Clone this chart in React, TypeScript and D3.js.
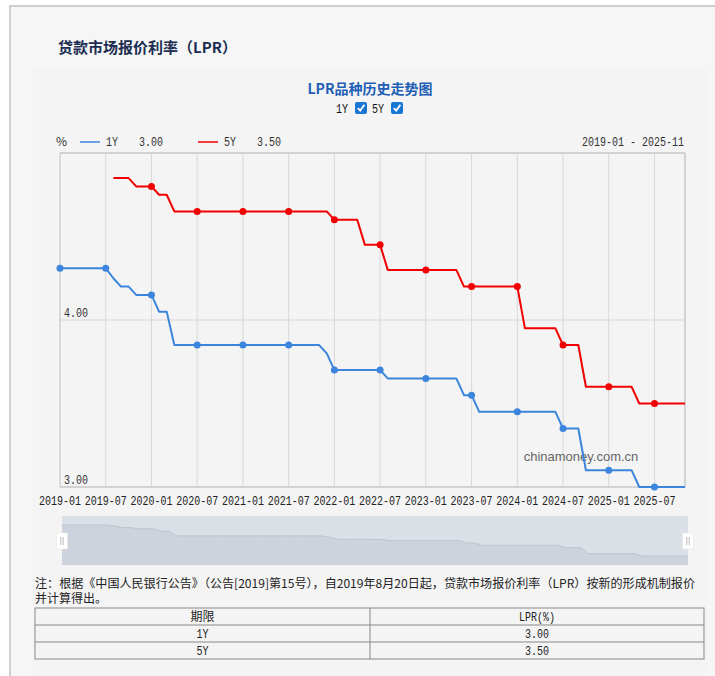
import React from "react";
import * as d3 from "d3";

const months: string[] = [
  "2019-01","2019-02","2019-03","2019-04","2019-05","2019-06","2019-07","2019-08","2019-09","2019-10","2019-11","2019-12",
  "2020-01","2020-02","2020-03","2020-04","2020-05","2020-06","2020-07","2020-08","2020-09","2020-10","2020-11","2020-12",
  "2021-01","2021-02","2021-03","2021-04","2021-05","2021-06","2021-07","2021-08","2021-09","2021-10","2021-11","2021-12",
  "2022-01","2022-02","2022-03","2022-04","2022-05","2022-06","2022-07","2022-08","2022-09","2022-10","2022-11","2022-12",
  "2023-01","2023-02","2023-03","2023-04","2023-05","2023-06","2023-07","2023-08","2023-09","2023-10","2023-11","2023-12",
  "2024-01","2024-02","2024-03","2024-04","2024-05","2024-06","2024-07","2024-08","2024-09","2024-10","2024-11","2024-12",
  "2025-01","2025-02","2025-03","2025-04","2025-05","2025-06","2025-07","2025-08","2025-09","2025-10","2025-11",
];

const lpr1Y: (number | null)[] = [
  4.31,4.31,4.31,4.31,4.31,4.31,4.31,4.25,4.20,4.20,4.15,4.15,
  4.15,4.05,4.05,3.85,3.85,3.85,3.85,3.85,3.85,3.85,3.85,3.85,
  3.85,3.85,3.85,3.85,3.85,3.85,3.85,3.85,3.85,3.85,3.85,3.80,
  3.70,3.70,3.70,3.70,3.70,3.70,3.70,3.65,3.65,3.65,3.65,3.65,
  3.65,3.65,3.65,3.65,3.65,3.55,3.55,3.45,3.45,3.45,3.45,3.45,
  3.45,3.45,3.45,3.45,3.45,3.45,3.35,3.35,3.35,3.10,3.10,3.10,
  3.10,3.10,3.10,3.10,3.00,3.00,3.00,3.00,3.00,3.00,3.00,
];

const lpr5Y: (number | null)[] = [
  null,null,null,null,null,null,null,4.85,4.85,4.85,4.80,4.80,
  4.80,4.75,4.75,4.65,4.65,4.65,4.65,4.65,4.65,4.65,4.65,4.65,
  4.65,4.65,4.65,4.65,4.65,4.65,4.65,4.65,4.65,4.65,4.65,4.65,
  4.60,4.60,4.60,4.60,4.45,4.45,4.45,4.30,4.30,4.30,4.30,4.30,
  4.30,4.30,4.30,4.30,4.30,4.20,4.20,4.20,4.20,4.20,4.20,4.20,
  4.20,3.95,3.95,3.95,3.95,3.95,3.85,3.85,3.85,3.60,3.60,3.60,
  3.60,3.60,3.60,3.60,3.50,3.50,3.50,3.50,3.50,3.50,3.50,
];

const xTickLabels: string[] = [
  "2019-01","2019-07","2020-01","2020-07","2021-01","2021-07","2022-01",
  "2022-07","2023-01","2023-07","2024-01","2024-07","2025-01","2025-07",
];
const yTicks: number[] = [3, 4];

const seriesNames: string[] = ["1Y", "5Y"];
const latestValues: string[] = ["3.00", "3.50"];
const seriesColors: string[] = ["#3b86dc", "#f00000"];

const tableHeader: string[] = ["期限", "LPR(%)"];
const tableRows: string[][] = [
  ["1Y", "3.00"],
  ["5Y", "3.50"],
];

const noteLine1 =
  "注：根据《中国人民银行公告》（公告[2019]第15号），自2019年8月20日起，贷款市场报价利率（LPR）按新的形成机制报价";
const noteLine2 = "并计算得出。";

const MONO = "'Liberation Mono', 'DejaVu Sans Mono', monospace";
const CJK = "'Noto Sans CJK SC', 'Noto Sans', sans-serif";

type MTProps = {
  x: number;
  y: number;
  text: string;
  anchor?: "start" | "middle" | "end";
  fill?: string;
};
// half-width "SimSun-like" text: 6px per character at 12px
function MT({ x, y, text, anchor = "start", fill = "#333" }: MTProps) {
  return (
    <text
      x={x}
      y={y}
      textAnchor={anchor}
      fontFamily={MONO}
      fontSize={12}
      fill={fill}
      textLength={text.length * 6}
      lengthAdjust="spacingAndGlyphs"
    >
      {text}
    </text>
  );
}

export default function App() {
  const W = 715, H = 676;
  const pl = 60, pr = 685, pt = 153, pb = 487;
  const x = d3.scaleLinear().domain([0, months.length - 1]).range([pl, pr]);
  const y = d3.scaleLinear().domain([3, 5]).range([pb, pt]);

  const line = d3
    .line<number | null>()
    .defined((d) => d != null)
    .x((_, i) => x(i))
    .y((d) => y(d as number));

  const series = [lpr1Y, lpr5Y];

  // slider
  const sl = 62, sr = 688, st = 516, sb = 565;
  const sx = d3.scaleLinear().domain([0, months.length - 1]).range([sl, sr]);
  const ext = d3.extent(lpr1Y.filter((v) => v != null) as number[]) as [number, number];
  const sy = d3.scaleLinear().domain(ext).range([556, 525]);
  const area = d3
    .area<number | null>()
    .x((_, i) => sx(i))
    .y0(sb)
    .y1((d) => sy(d as number));
  const sLine = d3
    .line<number | null>()
    .x((_, i) => sx(i))
    .y((d) => sy(d as number));

  const tickIdx = xTickLabels.map((t) => months.indexOf(t));

  const tl = 35, tr = 704, tmid = 370;
  const rowYs = [608, 625, 642, 659];

  return (
    <svg
      width={W}
      height={H}
      style={{ position: "absolute", left: 0, top: 0, display: "block" }}
    >
      <rect x={0} y={0} width={W} height={H} fill="#ffffff" />
      <rect x={10} y={6} width={W} height={H} fill="#f6f6f6" stroke="#cfcfcf" strokeWidth={2} />
      <rect x={33} y={68} width={674} height={H} fill="#f4f4f4" />

      {/* main title */}
      <text x={58} y={52.5} fontFamily={CJK} fontWeight="bold" fontSize={15} fill="#1c2d52">
        贷款市场报价利率（LPR）
      </text>

      {/* chart title */}
      <text x={370} y={94} textAnchor="middle" fontFamily={CJK} fontWeight="bold" fontSize={14} fill="#1f5fb6">
        LPR品种历史走势图
      </text>
      {/* checkboxes */}
      {seriesNames.map((n, i) => {
        const bx = [355, 391][i];
        return (
          <g key={n}>
            <MT x={bx - 7} y={113} text={n} anchor="end" fill="#111" />
            <rect x={bx} y={102} width={12} height={12} rx={2} fill="#1976d2" />
            <path
              d={`M${bx + 2.8},${108.2} L${bx + 5.2},${110.6} L${bx + 9.4},${104.8}`}
              fill="none"
              stroke="#fff"
              strokeWidth={1.8}
            />
          </g>
        );
      })}

      {/* legend */}
      <text x={56} y={146} fontFamily={CJK} fontSize={12} fill="#333">%</text>
      {seriesNames.map((n, i) => {
        const lx = [80, 198][i];
        return (
          <g key={n}>
            <line x1={lx} x2={lx + 20} y1={142} y2={142} stroke={seriesColors[i]} strokeWidth={2} opacity={0.75} />
            <MT x={lx + 26} y={146} text={n} />
            <MT x={lx + 59} y={146} text={latestValues[i]} />
          </g>
        );
      })}
      <MT x={684} y={146} anchor="end" text={`${months[0]} - ${months[months.length - 1]}`} />

      {/* grid */}
      {tickIdx.map((ti) => (
        <line key={ti} x1={x(ti)} x2={x(ti)} y1={pt} y2={pb} stroke="#d8d8d8" strokeWidth={1} />
      ))}
      {yTicks.map((v) => (
        <line key={v} x1={pl} x2={pr} y1={y(v)} y2={y(v)} stroke="#d8d8d8" strokeWidth={1} />
      ))}
      <line x1={pl} x2={pr} y1={pt} y2={pt} stroke="#d2d2d2" strokeWidth={2} />
      <line x1={pr} x2={pr} y1={pt} y2={pb} stroke="#d2d2d2" strokeWidth={2} />
      <line x1={pl} x2={pl} y1={pt} y2={pb} stroke="#cccccc" strokeWidth={1} />
      <line x1={pl} x2={pr} y1={pb} y2={pb} stroke="#cccccc" strokeWidth={1.5} />

      {yTicks.map((v) => (
        <MT key={v} x={pl + 4} y={y(v) - 3} text={d3.format(".2f")(v)} />
      ))}
      {tickIdx.map((ti, k) => (
        <MT key={ti} x={x(ti)} y={505} anchor="middle" text={xTickLabels[k]} fill="#222" />
      ))}

      {/* watermark */}
      <text x={581} y={461} textAnchor="middle" fontFamily="'Liberation Sans', Arial, sans-serif" fontSize={13} fill="#666">
        chinamoney.com.cn
      </text>

      {/* series */}
      {series.map((s, i) => (
        <g key={i}>
          <path d={line(s) || ""} fill="none" stroke={seriesColors[i]} strokeWidth={2} strokeLinejoin="round" />
          {tickIdx.map((ti) =>
            s[ti] != null ? (
              <circle key={ti} cx={x(ti)} cy={y(s[ti] as number)} r={3.5} fill={seriesColors[i]} />
            ) : null
          )}
        </g>
      ))}

      {/* slider */}
      <rect x={sl} y={st} width={sr - sl} height={sb - st} fill="#dbe0e7" />
      <path d={area(lpr1Y) || ""} fill="#ccd3dc" />
      <path d={sLine(lpr1Y) || ""} fill="none" stroke="#bcc4ce" strokeWidth={1} />
      {[62, 688].map((hx) => (
        <g key={hx}>
          <rect x={hx - 5.5} y={533} width={11} height={16} fill="#ffffff" stroke="#e2e2e2" strokeWidth={0.5} />
          <line x1={hx - 1.2} x2={hx - 1.2} y1={537} y2={545} stroke="#aaa" strokeWidth={0.8} />
          <line x1={hx + 1.2} x2={hx + 1.2} y1={537} y2={545} stroke="#aaa" strokeWidth={0.8} />
        </g>
      ))}

      {/* note */}
      <text x={35} y={588} fontFamily={CJK} fontSize={12} fill="#222" textLength={660} lengthAdjust="spacingAndGlyphs">
        {noteLine1}
      </text>
      <text x={35} y={603} fontFamily={CJK} fontSize={12} fill="#222">
        {noteLine2}
      </text>

      {/* table */}
      <rect x={tl} y={rowYs[0]} width={tr - tl} height={rowYs[3] - rowYs[0]} fill="none" stroke="#888" strokeWidth={1} />
      {rowYs.slice(1, 3).map((ry) => (
        <line key={ry} x1={tl} x2={tr} y1={ry} y2={ry} stroke="#888" strokeWidth={1} />
      ))}
      <line x1={tmid} x2={tmid} y1={rowYs[0]} y2={rowYs[3]} stroke="#888" strokeWidth={1} />
      {[tableHeader, ...tableRows].map((row, ri) =>
        row.map((cell, ci) => {
          const cx = ci === 0 ? (tl + tmid) / 2 : (tmid + tr) / 2;
          const cy = rowYs[ri] + 13;
          return ri === 0 && ci === 0 ? (
            <text key={`${ri}-${ci}`} x={cx} y={cy} textAnchor="middle" fontFamily={CJK} fontSize={12} fill="#222">
              {cell}
            </text>
          ) : (
            <MT key={`${ri}-${ci}`} x={cx} y={cy} anchor="middle" text={cell} fill="#222" />
          );
        })
      )}
    </svg>
  );
}
